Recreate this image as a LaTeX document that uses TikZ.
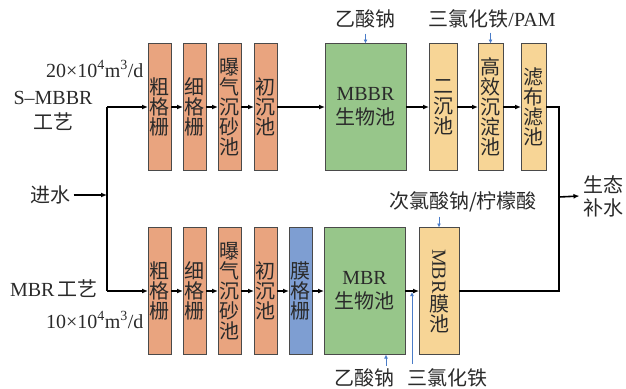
\documentclass[tikz,border=0pt]{standalone}
\usepackage{fontspec}
\setmainfont{Liberation Serif}
\newfontfamily\cjk{Noto Sans CJK SC}
\usetikzlibrary{arrows.meta}
\definecolor{orangebox}{HTML}{E9A47F}
\definecolor{greenbox}{HTML}{97C68A}
\definecolor{yellowbox}{HTML}{F7D596}
\definecolor{bluebox}{HTML}{7E9ED2}
\definecolor{boxline}{HTML}{4A4A4A}
\definecolor{chemblue}{HTML}{4A7CC8}
\definecolor{txt}{HTML}{2A2A2A}
\begin{document}
\begin{tikzpicture}[x=1pt,y=-1pt,
  every node/.style={text=txt, font=\fontsize{20}{22}\selectfont},
  box/.style={draw=boxline, line width=1pt, inner sep=0pt, outer sep=0pt, align=center,
    minimum height=127pt, font=\cjk\fontsize{20}{20}\selectfont},
  obox/.style={box, fill=orangebox, minimum width=23pt},
  ybox/.style={box, fill=yellowbox, minimum width=25pt},
  gbox/.style={box, fill=greenbox, minimum width=81pt, font=\cjk\fontsize{20}{24}\selectfont},
  bbox/.style={box, fill=bluebox, minimum width=23pt},
  flow/.style={line width=1.6pt, draw=black},
  arr/.style={flow, -{Latex[length=6pt,width=5pt]}},
  barr/.style={line width=1pt, draw=chemblue, -{Latex[length=4pt,width=4pt]}},
  lab/.style={font=\cjk\fontsize{20}{22}\selectfont}
]
\useasboundingbox (0,0) rectangle (626,388);

% ---- top row (S-MBBR)
\node[obox] (t1) at (159.5,107) {粗\\格\\栅};
\node[obox] (t2) at (194.5,107) {细\\格\\栅};
\node[obox] (t3) at (229.5,107) {曝\\气\\沉\\砂\\池};
\node[obox] (t4) at (265.5,107) {初\\沉\\池};
\node[gbox] (t5) at (365.5,107) {{\rmfamily MBBR}\\生物池};
\node[ybox, minimum width=28pt] (t6) at (443,107) {二\\沉\\池};
\node[ybox] (t7) at (490.5,107) {高\\效\\沉\\淀\\池};
\node[ybox] (t8) at (533.5,107) {滤\\布\\滤\\池};

% ---- bottom row (MBR)
\node[obox] (b1) at (159.5,291) {粗\\格\\栅};
\node[obox] (b2) at (194.5,291) {细\\格\\栅};
\node[obox] (b3) at (229.5,291) {曝\\气\\沉\\砂\\池};
\node[obox] (b4) at (265.5,291) {初\\沉\\池};
\node[bbox] (b5) at (300.5,291) {膜\\格\\栅};
\node[gbox] (b6) at (364.5,291) {{\rmfamily MBR}\\生物池};
\node[ybox, minimum width=40pt] (b7) at (439,291) {\rotatebox{-90}{\rmfamily MBR}\\膜\\池};

% ---- left labels
\node[anchor=east] (q1) at (147,69) {20×10\textsuperscript{4}m\textsuperscript{3}/d};
\node (s1) at (53,98) {S–MBBR};
\node[lab] (s2) at (53,122) {工艺};
\node[lab] (jin) at (50,195) {进水};
\node (m1) at (54,289) {MBR\,{\cjk 工艺}};
\node[anchor=east] (q2) at (147,320) {10×10\textsuperscript{4}m\textsuperscript{3}/d};

% ---- right label
\node[lab, align=center, font=\cjk\fontsize{20}{23}\selectfont] (out) at (603,196) {生态\\补水};

% ---- chemical labels
\node[lab] (c1) at (365,19) {乙酸钠};
\node (c2) at (492,19) {{\cjk 三氯化铁}/PAM};
\node[lab] (c3) at (463,202) {次氯酸钠/柠檬酸};
\node[lab] (c4) at (364,378) {乙酸钠};
\node[lab] (c5) at (447,378) {三氯化铁};

% ---- junctions
\coordinate (jt) at (107,107);
\coordinate (jm) at (107,195);
\coordinate (jb) at (107,291);
\coordinate (rt) at (559,107);
\coordinate (rm) at (559,197);
\coordinate (rb) at (559,291);
\coordinate (fe) at (412,291);
\coordinate (fe0) at (412,364);

% ---- flow lines
\draw[arr] (jin.east) -- (jm);
\draw[flow] (jt) -- (jb);
\draw[arr] (jt) -- (t1.west);
\draw[arr] (t1) -- (t2);
\draw[arr] (t2) -- (t3);
\draw[arr] (t3) -- (t4);
\draw[arr] (t4) -- (t5);
\draw[arr] (t5) -- (t6);
\draw[arr] (t6) -- (t7);
\draw[arr] (t7) -- (t8);
\draw[arr] (jb) -- (b1.west);
\draw[arr] (b1) -- (b2);
\draw[arr] (b2) -- (b3);
\draw[arr] (b3) -- (b4);
\draw[arr] (b4) -- (b5);
\draw[arr] (b5) -- (b6);
\draw[arr] (b6) -- (b7);
\draw[flow] (t8.east) -- (rt) -- (rb) -- (b7.east);
\draw[arr] (rm) -- (out.west);

% ---- chemical dosing arrows
\draw[barr] ([yshift=10pt]t5.north) -- (t5.north);
\draw[barr] ([yshift=11pt]t7.north) -- (t7.north);
\draw[barr] ([yshift=11pt]b7.north) -- (b7.north);
\draw[barr] ([xshift=21.5pt,yshift=-11pt]b6.south) -- ([xshift=21.5pt]b6.south);
\draw[barr, shorten >=1pt] (fe0) -- (fe);
\end{tikzpicture}
\end{document}
